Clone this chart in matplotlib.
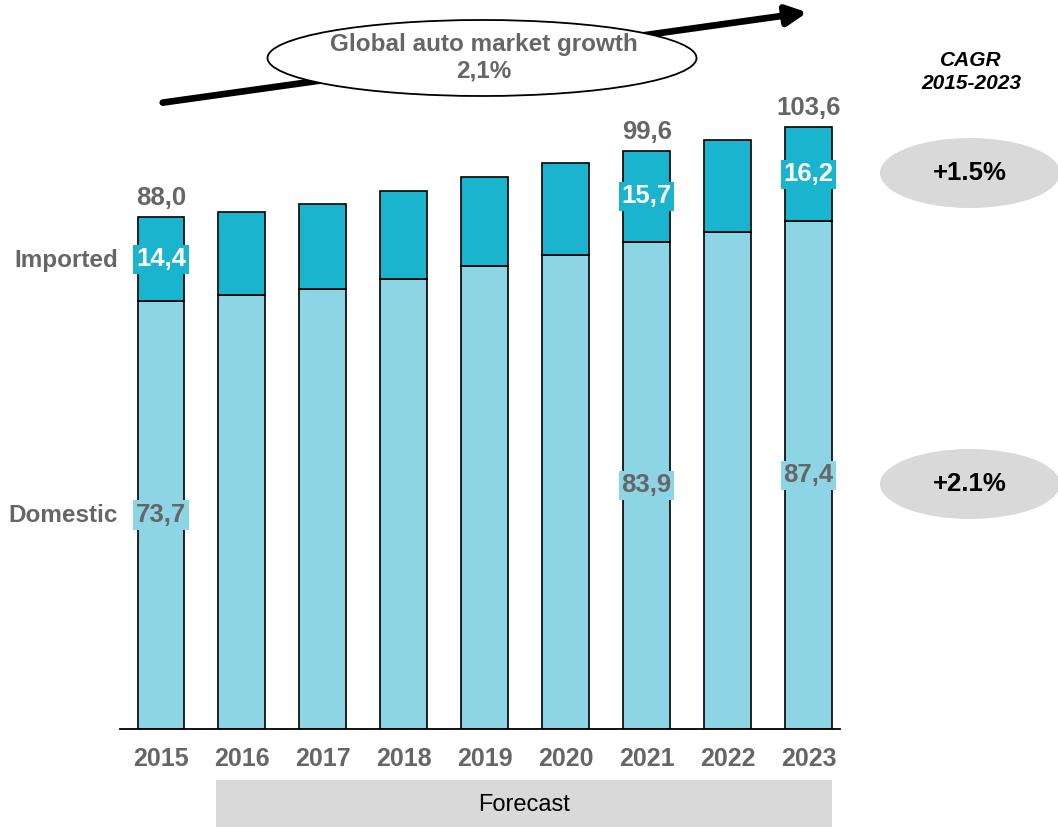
import matplotlib
matplotlib.use("Agg")
import matplotlib.pyplot as plt
from matplotlib.patches import Ellipse, Rectangle, FancyArrowPatch

plt.rcParams['font.family'] = ['Liberation Sans', 'DejaVu Sans']

# Market volume by year (domestic + imported)
years = ['2015', '2016', '2017', '2018', '2019', '2020', '2021', '2022', '2023']
domestic = [73.7, 74.7, 75.8, 77.5, 79.7, 81.6, 83.9, 85.6, 87.4]
imported = [14.4, 14.3, 14.6, 15.1, 15.4, 15.9, 15.7, 15.8, 16.2]
total_labels = ['88,0', None, None, None, None, None, '99,6', None, '103,6']
labelled_years = [0, 6, 8]
cagr_imported = '+1.5%'
cagr_domestic = '+2.1%'
global_growth = '2,1%'

C_IMP = '#1AB4CE'
C_DOM = '#8DD5E5'
GREY = '#666666'
LIGHT = '#D9D9D9'

W, H = 1058, 827
fig = plt.figure(figsize=(W / 100, H / 100), dpi=100)


def fx(px):
    return px / W


def fy(py):
    return 1 - py / H


ax = fig.add_axes([fx(120), fy(729), fx(840) - fx(120), fy(100) - fy(729)])
x = list(range(len(years)))
ax.bar(x, domestic, width=0.58, color=C_DOM, edgecolor='black', linewidth=1.2, zorder=2)
ax.bar(x, imported, bottom=domestic, width=0.58, color=C_IMP, edgecolor='black',
       linewidth=1.2, zorder=2)
ax.set_xlim(-0.507, 8.39)
ax.set_ylim(0, 108.3)
for s in ['top', 'right', 'left']:
    ax.spines[s].set_visible(False)
ax.spines['bottom'].set_linewidth(1.3)
ax.set_yticks([])
ax.set_xticks(x)
ax.set_xticklabels(years, fontsize=18, fontweight='bold', color=GREY)
ax.tick_params(axis='x', length=0, pad=13)


def fmt(v):
    return f"{v:.1f}".replace('.', ',')


for i in labelled_years:
    d, m = domestic[i], imported[i]
    ax.text(i, d + m / 2, fmt(m), ha='center', va='center', fontsize=18.5,
            fontweight='bold', color='white', zorder=4,
            bbox=dict(boxstyle='square,pad=0.1', fc=C_IMP, ec='none'))
    ax.text(i, d / 2, fmt(d), ha='center', va='center', fontsize=18.5,
            fontweight='bold', color=GREY, zorder=4,
            bbox=dict(boxstyle='square,pad=0.1', fc=C_DOM, ec='none'))
    ax.annotate(total_labels[i], (i, d + m), xytext=(0, 5), textcoords='offset points',
                ha='center', va='bottom', fontsize=18.5, fontweight='bold', color=GREY)

# Row labels
fig.text(fx(118), fy(261), 'Imported', ha='right', va='center', fontsize=17.5,
         fontweight='bold', color=GREY)
fig.text(fx(118), fy(516), 'Domestic', ha='right', va='center', fontsize=17.5,
         fontweight='bold', color=GREY)

# CAGR column
fig.text(fx(971), fy(72), 'CAGR\n2015-2023', ha='center', va='center', fontsize=15,
         fontweight='bold', fontstyle='italic', color='black', linespacing=1.3)
for cy, txt in [(173, cagr_imported), (484, cagr_domestic)]:
    fig.add_artist(Ellipse((fx(970), fy(cy)), fx(180), 70 / H, transform=fig.transFigure,
                           fc=LIGHT, ec='none'))
    fig.text(fx(970), fy(cy), txt, ha='center', va='center', fontsize=18.5,
             fontweight='bold', color='black')

# Global growth arrow with ellipse
arrow = FancyArrowPatch((fx(160), fy(103)), (fx(810), fy(12)), transform=fig.transFigure,
                        arrowstyle='-|>,head_length=12,head_width=6', mutation_scale=1,
                        lw=4.8, color='black', zorder=1)
fig.add_artist(arrow)
fig.add_artist(Ellipse((fx(482), fy(58)), fx(429), 76 / H, transform=fig.transFigure,
                       fc='white', ec='black', lw=1.3, zorder=2))
t = fig.text(fx(484), fy(58), 'Global auto market growth\n' + global_growth, ha='center',
             va='center', fontsize=17.5, fontweight='bold', color=GREY, linespacing=1.2)
t.set_zorder(3)

# Forecast band
fig.add_artist(Rectangle((fx(216), 0), fx(832) - fx(216), fy(780), transform=fig.transFigure,
                         fc=LIGHT, ec='none'))
fig.text(fx(524), fy(805), 'Forecast', ha='center', va='center', fontsize=17, color='black')

fig.savefig('out.png', dpi=100)
